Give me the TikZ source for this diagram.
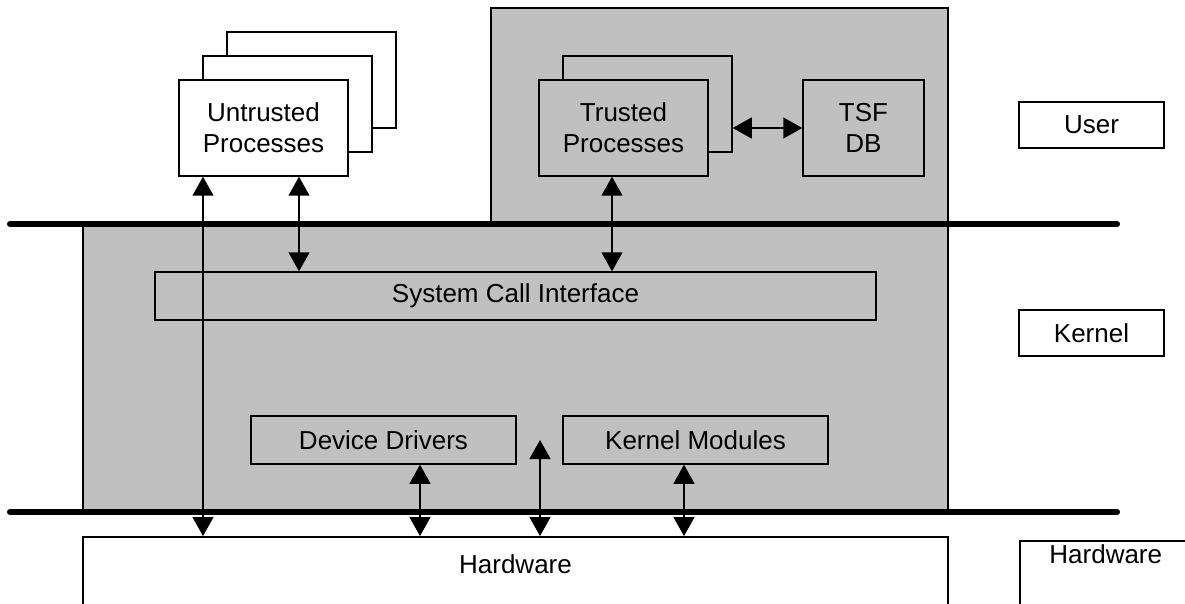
\documentclass[tikz,border=0pt]{standalone}
\usepackage{fontspec}
\setmainfont{Liberation Sans}
\usetikzlibrary{arrows.meta}
\definecolor{tsfgrey}{RGB}{192,192,192}
\tikzset{
  box/.style={draw, line width=1.5pt, inner sep=0pt, font=\fontsize{26}{31}\selectfont, align=center},
  link/.style={line width=1.5pt, {Triangle[length=19pt,width=21pt]}-{Triangle[length=19pt,width=21pt]}},
  bar/.style={line width=6pt, line cap=round}
}

\begin{document}
\begin{tikzpicture}[x=1pt,y=-1pt]
\useasboundingbox (0,0) rectangle (1185,604);
\clip (0,0) rectangle (1185,604);

\filldraw[fill=tsfgrey, line width=1.5pt] (491,8) -- (948,8) -- (948,512) -- (83,512) -- (83,224) -- (491,224) -- cycle;
\draw[bar] (10,224) -- (1117,224);
\draw[bar] (10,512) -- (1117,512);

\foreach \d in {48,24}
  \draw[fill=white, line width=1.5pt] (179+\d,80-\d) rectangle (348+\d,176-\d);
\node[box, fill=white, minimum width=169pt, minimum height=96pt] (untrusted) at (263.5,128) {Untrusted\\Processes};

\node[box, fill=tsfgrey, minimum width=169pt, minimum height=96pt] (trustedback) at (647.5,104) {};
\node[box, fill=tsfgrey, minimum width=169pt, minimum height=96pt] (trusted) at (623.5,128) {Trusted\\Processes};
\node[box, minimum width=121pt, minimum height=96pt] (tsf) at (863.5,128) {TSF\\DB};

\node[box, minimum width=721pt, minimum height=48pt] (sci) at (515.5,296) {System Call Interface};
\node[box, minimum width=265pt, minimum height=48pt] (dd) at (383.5,440) {Device Drivers};
\node[box, minimum width=265pt, minimum height=48pt] (km) at (695.5,440) {Kernel Modules};
\node[box, fill=white, anchor=north, minimum width=865pt, text height=37pt, text depth=80pt] (hw) at (515.5,536) {Hardware};

\node[box, minimum width=145pt, minimum height=46pt] (user) at (1091.5,125) {User};
\node[box, minimum width=145pt, minimum height=46pt] (kernel) at (1091.5,333) {Kernel};
\node[box, anchor=north west, minimum width=172pt, text height=23pt, text depth=80pt] (hwlevel) at (1019,540) {Hardware};

\coordinate (ua) at ([xshift=-60.5pt]untrusted.south);
\coordinate (ub) at ([xshift=35.5pt]untrusted.south);
\coordinate (ta) at ([xshift=-11.5pt]trusted.south);
\coordinate (da) at ([xshift=36.5pt]dd.south);
\coordinate (ka) at ([xshift=-11.5pt]km.south);
\coordinate (free) at (540,440);

\draw[link] (ua) -- (ua |- hw.north);
\draw[link] (ub) -- (ub |- sci.north);
\draw[link] (ta) -- (ta |- sci.north);
\draw[link] (trustedback.east |- tsf.west) -- (tsf.west);
\draw[link] (da) -- (da |- hw.north);
\draw[link] (free) -- (free |- hw.north);
\draw[link] (ka) -- (ka |- hw.north);

\end{tikzpicture}
\end{document}
